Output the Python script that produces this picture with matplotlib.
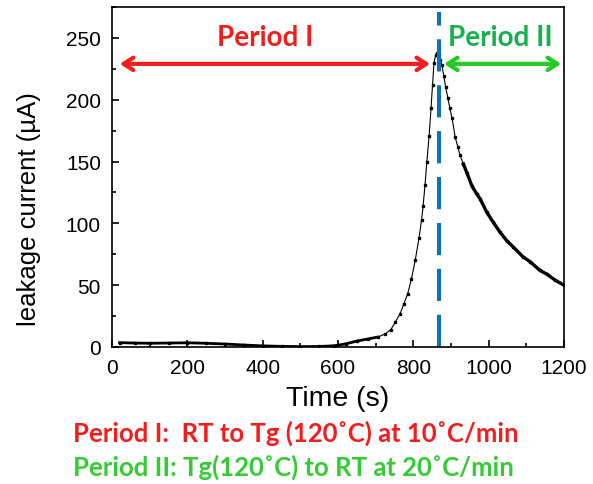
import matplotlib
matplotlib.use('Agg')
import matplotlib.pyplot as plt
from matplotlib.ticker import MultipleLocator

# leakage current (time in s, current in uA)
time_s = [20, 60, 100, 150, 200, 250, 300, 350, 400, 450, 500, 550, 590, 620,
          650, 680, 705, 725, 740, 752, 765, 775, 785, 795, 805, 815, 822, 826,
          831, 836, 842, 847, 851, 855, 859, 863, 867, 872, 876, 881, 886, 892,
          897, 903, 911, 918, 924, 933, 942, 956, 968, 977, 995, 1012, 1030,
          1048, 1065, 1091, 1110, 1136, 1154, 1177, 1200]
current_ua = [3.5, 3.2, 3.0, 3.2, 3.4, 3.0, 2.4, 1.6, 0.9, 0.5, 0.3, 0.4, 1.0, 2.5,
              4.8, 6.5, 8.0, 10.5, 14, 20, 27, 35, 43, 55, 70, 88, 103, 114,
              131, 150, 171, 193, 212, 230, 236, 238, 236, 232, 228, 219, 210, 201,
              193, 185, 170, 162, 155, 148, 141, 130, 124, 120, 109, 101, 93,
              86, 81, 73, 69, 62, 59, 54, 50]

t_switch = 867        # end of period I (dashed line)
arrow_y = 229
p1_span = [13, 852]
p2_span = [874, 1200]
period_labels = ['Period I', 'Period II']
notes = ['Period I:  RT to Tg (120\u02daC) at 10\u02daC/min',
         'Period II: Tg(120\u02daC) to RT at 20\u02daC/min']

red = '#f41c1c'
green_arrow = '#22cc22'
green_text = '#16b04c'
green_note = '#33cc33'
blue = '#0a70c0'

plt.rcParams['font.family'] = ['Liberation Sans', 'DejaVu Sans']

fig = plt.figure(figsize=(5.93, 4.85), dpi=100)
ax = fig.add_axes([0.189, 0.2825, 0.762, 0.701])

ax.plot(time_s, current_ua, color='black', lw=0.8, marker='s', ms=1.6)
# the sampled points merge into a thick trace on the flat part and the tail
ax.plot(time_s[:17], current_ua[:17], color='black', lw=2.0)
ax.plot(time_s[47:], current_ua[47:], color='black', lw=2.4)

ax.axvline(t_switch, color=blue, lw=2.9, linestyle=(0, (8, 3.4)), ymax=0.985)

ax.annotate('', xy=(p1_span[0], arrow_y), xytext=(p1_span[1], arrow_y),
            arrowprops=dict(arrowstyle='<->,head_length=0.7,head_width=0.45', color=red, lw=3))
ax.annotate('', xy=(p2_span[0], arrow_y), xytext=(p2_span[1], arrow_y),
            arrowprops=dict(arrowstyle='<->,head_length=0.7,head_width=0.45', color=green_arrow, lw=3))
ax.text(406, 251, period_labels[0], color=red, fontsize=20, fontweight='bold',
        family=['Lato', 'DejaVu Sans'], ha='center', va='center')
ax.text(1030, 251, period_labels[1], color=green_text, fontsize=20, fontweight='bold',
        family=['Lato', 'DejaVu Sans'], ha='center', va='center')

ax.set_xlim(0, 1200)
ax.set_ylim(0, 275)
ax.xaxis.set_major_locator(MultipleLocator(200))
ax.xaxis.set_minor_locator(MultipleLocator(100))
ax.yaxis.set_major_locator(MultipleLocator(50))
ax.yaxis.set_minor_locator(MultipleLocator(25))
ax.tick_params(which='both', direction='in', top=False, right=False, labelsize=15, width=1.2)
ax.tick_params(which='major', length=5, pad=8)
ax.tick_params(which='minor', length=3)
for s in ax.spines.values():
    s.set_linewidth(1.2)

ax.set_xlabel('Time (s)', fontsize=20.5, labelpad=6)
ax.set_ylabel('leakage current (\u00b5A)', fontsize=18.5)
ax.yaxis.set_label_coords(-0.157, 0.41)

fig.text(0.123, 0.107, notes[0], color=red, fontsize=18.5, fontweight='bold',
         family=['Lato', 'DejaVu Sans'], ha='left', va='center')
fig.text(0.123, 0.037, notes[1], color=green_note, fontsize=18.5, fontweight='bold',
         family=['Lato', 'DejaVu Sans'], ha='left', va='center')

fig.savefig('out.png', dpi=100)
